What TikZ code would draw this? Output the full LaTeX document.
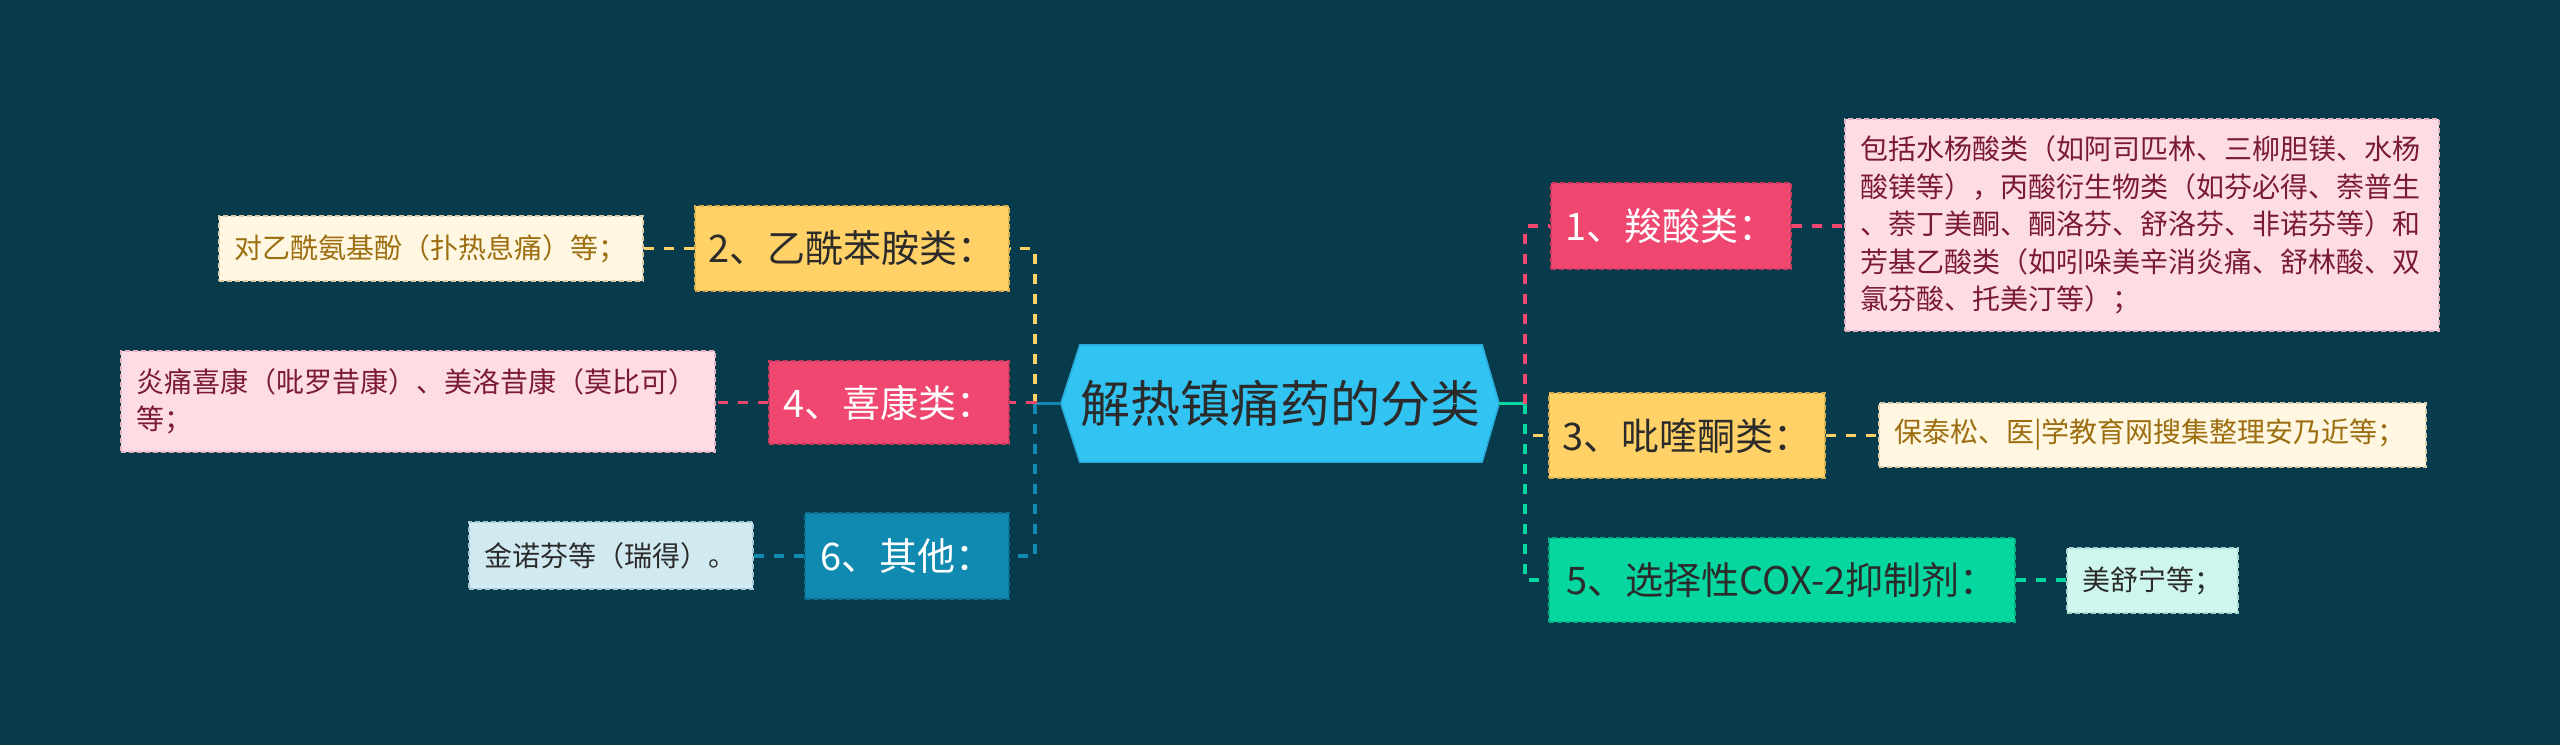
\documentclass[tikz,border=0pt]{standalone}
\usepackage{fontspec}
\setmainfont{Noto Sans CJK SC}
\definecolor{bg}{HTML}{073B4C}
\definecolor{rootF}{HTML}{31C4F3}
\definecolor{rootB}{HTML}{2AA9D6}
\definecolor{pinkN}{HTML}{EF476F}
\definecolor{pinkB}{HTML}{C93A5D}
\definecolor{yelN}{HTML}{FFD166}
\definecolor{yelB}{HTML}{D9AE4F}
\definecolor{grnN}{HTML}{06D6A0}
\definecolor{grnB}{HTML}{05AF84}
\definecolor{bluN}{HTML}{118AB2}
\definecolor{bluB}{HTML}{0D6F8F}
\definecolor{pinkL}{HTML}{FDDCE4}
\definecolor{pinkLB}{HTML}{E3B3C0}
\definecolor{pinkT}{HTML}{7A1B33}
\definecolor{yelL}{HTML}{FFF7E1}
\definecolor{yelLB}{HTML}{DCCFA9}
\definecolor{yelT}{HTML}{9C6E10}
\definecolor{grnL}{HTML}{CFF6EC}
\definecolor{grnLB}{HTML}{A5D8CB}
\definecolor{bluL}{HTML}{D1E9F1}
\definecolor{bluLB}{HTML}{A7C9D5}
\definecolor{darkT}{HTML}{2B2B2B}
\begin{document}
\begin{tikzpicture}[x=1pt,y=-1pt,
  box/.style={rectangle, inner sep=0pt, line width=1.5pt, dash pattern=on 5pt off 3pt},
  mainbox/.style={box, font=\fontsize{38}{44}\selectfont, align=center},
  leafbox/.style={box, inner xsep=15pt, inner ysep=0pt, font=\fontsize{28}{37.5}\selectfont, align=left},
  link/.style={line width=3.5pt, dash pattern=on 10pt off 10pt},
  solidlink/.style={line width=3.5pt}
]
\useasboundingbox[fill=bg] (0,0) rectangle (2560,745);

% root
\node[minimum width=438, minimum height=117, inner sep=0pt] (root) at (1280,403.5) {};
\fill[rootF, draw=rootB, line width=1.5pt] (root.west) -- ([xshift=19]root.north west) -- ([xshift=-17]root.north east) -- (root.east) -- ([xshift=-17]root.south east) -- ([xshift=19]root.south west) -- cycle;
\node[font=\fontsize{50}{58}\selectfont, text=darkT, inner sep=0pt] (rootlabel) at (root.center) {解热镇痛药的分类};

% right main nodes
\node[mainbox, fill=pinkN, draw=pinkB, text=white, minimum width=240, minimum height=86] (n1) at (1671,226) {1、羧酸类：};
\node[mainbox, fill=yelN, draw=yelB, text=darkT, minimum width=276, minimum height=85] (n3) at (1687,435.5) {3、吡喹酮类：};
\node[mainbox, fill=grnN, draw=grnB, text=darkT, minimum width=466, minimum height=84] (n5) at (1782,580) {5、选择性COX-2抑制剂：};

% left main nodes
\node[mainbox, fill=yelN, draw=yelB, text=darkT, minimum width=314, minimum height=85] (n2) at (852,248.5) {2、乙酰苯胺类：};
\node[mainbox, fill=pinkN, draw=pinkB, text=white, minimum width=240, minimum height=83] (n4) at (889,402.5) {4、喜康类：};
\node[mainbox, fill=bluN, draw=bluB, text=white, minimum width=204, minimum height=86] (n6) at (907,556) {6、其他：};

% leaves
\node[leafbox, fill=pinkL, draw=pinkLB, text=pinkT, text width=564, minimum height=212] (l1) at (2142,225) {包括水杨酸类（如阿司匹林、三柳胆镁、水杨\\酸镁等），丙酸衍生物类（如芬必得、萘普生\\、萘丁美酮、酮洛芬、舒洛芬、非诺芬等）和\\芳基乙酸类（如吲哚美辛消炎痛、舒林酸、双\\氯芬酸、托美汀等）；};
\node[leafbox, fill=yelL, draw=yelLB, text=yelT, text width=517, minimum height=64] (l3) at (2152.5,435) {保泰松、医|学教育网搜集整理安乃近等；};
\node[leafbox, fill=grnL, draw=grnLB, text=darkT, text width=141, minimum height=65] (l5) at (2152.5,580.5) {美舒宁等；};
\node[leafbox, fill=yelL, draw=yelLB, text=yelT, text width=394, minimum height=65] (l2) at (431,248.5) {对乙酰氨基酚（扑热息痛）等；};
\node[leafbox, fill=pinkL, draw=pinkLB, text=pinkT, text width=564, minimum height=101] (l4) at (418,401.5) {炎痛喜康（吡罗昔康）、美洛昔康（莫比可）\\等；};
\node[leafbox, fill=bluL, draw=bluLB, text=darkT, text width=254, minimum height=67] (l6) at (611,555.5) {金诺芬等（瑞得）。};

% trunks
\coordinate (tl) at (1035,403.5);
\coordinate (tr) at (1525,403.5);
\draw[solidlink, bluN] (root.west) -- (tl);
\draw[solidlink, grnN] (root.east) -- (tr);

% right branches
\draw[link, pinkN] (tr) |- (n1.west);
\draw[link, yelN] (tr) |- (n3.west);
\draw[link, grnN] (tr) |- (n5.west);
% left branches
\draw[link, yelN] (tl) |- (n2.east);
\draw[link, pinkN] (tl) |- (n4.east);
\draw[link, bluN] (tl) |- (n6.east);

% leaf links
\draw[link, pinkN] (n1.east) -- (n1.east -| l1.west);
\draw[link, yelN] (n3.east) -- (n3.east -| l3.west);
\draw[link, grnN] (n5.east) -- (n5.east -| l5.west);
\draw[link, yelN] (n2.west) -- (n2.west -| l2.east);
\draw[link, pinkN] (n4.west) -- (n4.west -| l4.east);
\draw[link, bluN] (n6.west) -- (n6.west -| l6.east);
\end{tikzpicture}
\end{document}
